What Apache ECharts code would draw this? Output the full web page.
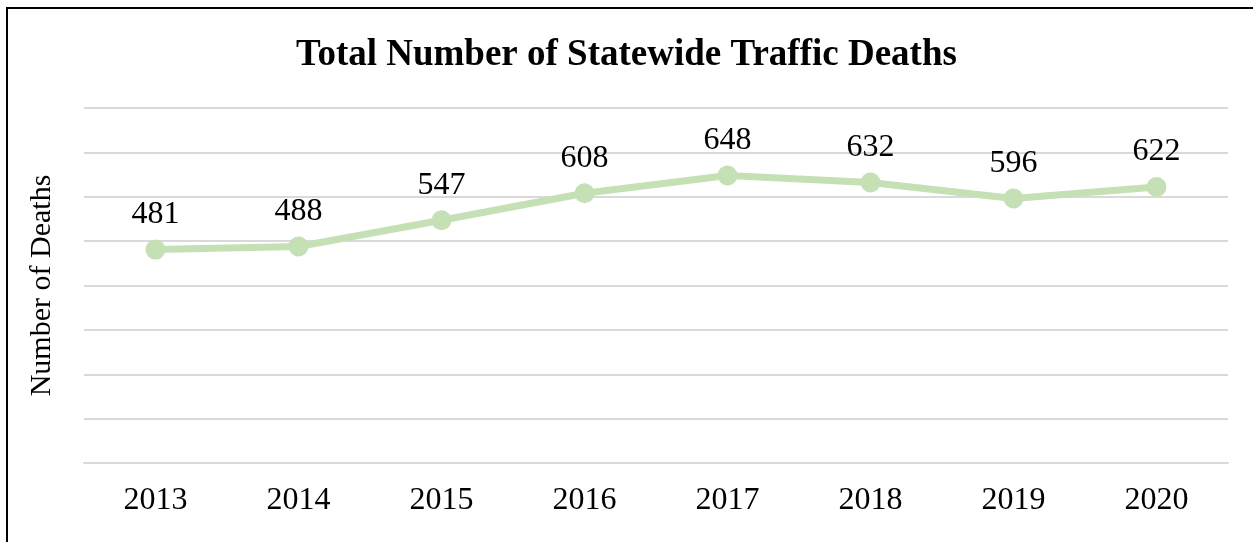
<!DOCTYPE html>
<html>
<head>
<meta charset="utf-8">
<script src="https://cdn.jsdelivr.net/npm/echarts@6/dist/echarts.min.js"></script>
<style>
html,body{margin:0;padding:0;background:#fff;}
#chart{width:1253px;height:542px;}
</style>
</head>
<body>
<div id="chart"></div>
<script>
const years = ['2013','2014','2015','2016','2017','2018','2019','2020'];
const deaths = [481, 488, 547, 608, 648, 632, 596, 622];
const yMin = 0, yMax = 800, yStep = 100;

const chart = echarts.init(document.getElementById('chart'), null, {renderer:'canvas'});
const serif = '"Liberation Serif","Times New Roman",serif';
chart.setOption({
  animation:false,
  backgroundColor:'#fff',
  title:{
    text:'Total Number of Statewide Traffic Deaths',
    left:'center', top:32,
    textStyle:{fontFamily:serif, fontWeight:'bold', fontSize:37, color:'#000'}
  },
  graphic:[{
    type:'rect', shape:{x:7,y:8,width:1400,height:700},
    style:{fill:'none', stroke:'#000', lineWidth:2}, silent:true
  }],
  grid:{left:84, right:25, top:108, bottom:79},
  xAxis:{
    type:'category', data:years, boundaryGap:true,
    axisLine:{show:true, lineStyle:{color:'#d9d9d9', width:2}},
    axisTick:{show:false},
    axisLabel:{fontFamily:serif, fontSize:32, color:'#000', margin:22}
  },
  yAxis:{
    type:'value', min:yMin, max:yMax, interval:yStep,
    name:'Number of Deaths', nameLocation:'middle', nameGap:27, nameRotate:90,
    nameTextStyle:{fontFamily:serif, fontSize:30, color:'#000'},
    axisLabel:{show:false}, axisLine:{show:false}, axisTick:{show:false},
    splitLine:{lineStyle:{color:'#d9d9d9', width:2}}
  },
  series:[{
    type:'line', data:deaths,
    lineStyle:{color:'#c5e0b4', width:7},
    itemStyle:{color:'#c5e0b4'},
    symbol:'circle', symbolSize:20,
    label:{show:true, position:'top', distance:9, fontFamily:serif, fontSize:32, color:'#000'}
  }]
});
</script>
</body>
</html>
